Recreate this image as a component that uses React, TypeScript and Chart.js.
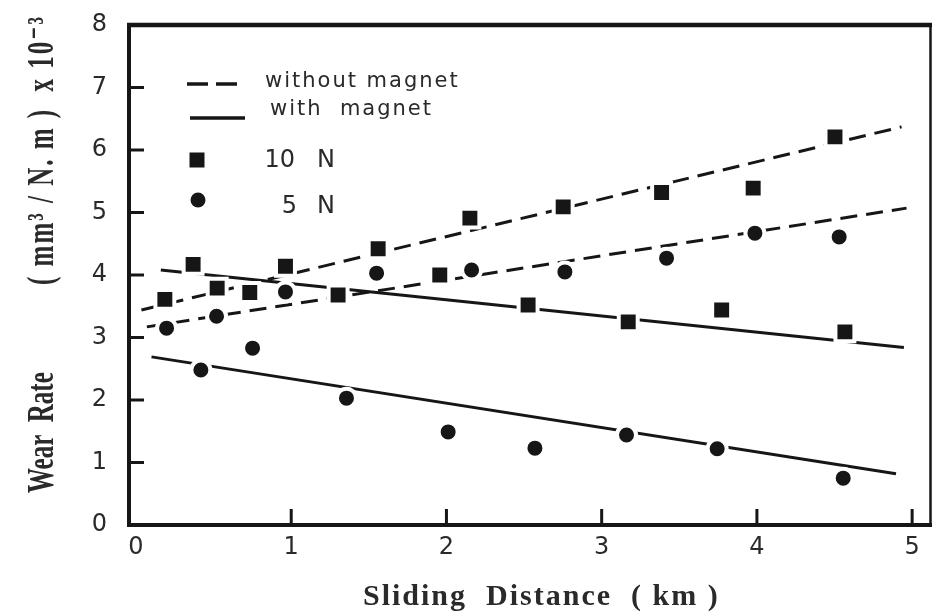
import React, { useEffect, useRef } from "react";
import { Chart, registerables } from "chart.js";

Chart.register(...registerables);

// ---------------- data ----------------
const xTickValues = [0, 1, 2, 3, 4, 5];
const yTickValues = [0, 1, 2, 3, 4, 5, 6, 7, 8];
const xAxisMin = -0.045;
const xAxisMax = 5.128;
const yAxisMin = 0;
const yAxisMax = 8;

const xTitle = "Sliding  Distance  ( km )";
const yTitleMain = "Wear  Rate";
const yTitleUnit = "( mm³ / N. m )  x 10⁻³";

const legendLineLabels = ["without magnet", "with  magnet"];
const legendLoadNumbers = ["10", "5"];
const legendLoadUnit = "N";

// 10 N, without magnet (squares)
const sq10WithoutX = [0.186, 0.523, 0.733, 1.56, 1.957, 2.151, 2.752, 3.386, 3.976, 4.503];
const sq10WithoutY = [3.61, 3.79, 3.72, 4.42, 4.0, 4.91, 5.09, 5.32, 5.39, 6.21];
// 10 N, with magnet (squares)
const sq10WithX = [0.368, 0.963, 1.302, 2.526, 3.171, 3.773, 4.567];
const sq10WithY = [4.17, 4.14, 3.68, 3.52, 3.25, 3.44, 3.09];
// 5 N, without magnet (circles)
const c5WithoutX = [0.197, 0.519, 0.963, 1.55, 2.162, 2.763, 3.418, 3.987, 4.53];
const c5WithoutY = [3.15, 3.34, 3.73, 4.03, 4.08, 4.05, 4.27, 4.67, 4.61];
// 5 N, with magnet (circles)
const c5WithX = [0.418, 0.751, 1.356, 2.011, 2.57, 3.16, 3.744, 4.556];
const c5WithY = [2.48, 2.83, 2.03, 1.49, 1.23, 1.44, 1.22, 0.75];

// fitted lines (end points)
const fit10WithoutX = [0.035, 4.932];
const fit10WithoutY = [3.44, 6.37];
const fit5WithoutX = [0.07, 4.964];
const fit5WithoutY = [3.17, 5.07];
const fit10WithX = [0.16, 4.947];
const fit10WithY = [4.08, 2.84];
const fit5WithX = [0.1, 4.896];
const fit5WithY = [2.69, 0.82];

// ---------------- styles ----------------
const INK = "#161616";
const TEXT = "#2a2a2a";
const TICK_FONT = "'DejaVu Sans', 'Liberation Sans', sans-serif";
const SERIF = "'Liberation Serif', 'DejaVu Serif', serif";

const toPts = (xs: number[], ys: number[]) => xs.map((x, i) => ({ x, y: ys[i] }));

const decorPlugin = {
  id: "decor",
  beforeDraw(chart: any) {
    const { ctx, width, height } = chart;
    ctx.save();
    ctx.fillStyle = "#ffffff";
    ctx.fillRect(0, 0, width, height);
    ctx.restore();
  },
  afterDatasetsDraw(chart: any) {
    const { ctx, chartArea: a, scales } = chart;
    ctx.save();
    ctx.strokeStyle = INK;
    ctx.lineCap = "butt";
    ctx.setLineDash([]);
    const line = (x1: number, y1: number, x2: number, y2: number) => {
      ctx.beginPath();
      ctx.moveTo(x1, y1);
      ctx.lineTo(x2, y2);
      ctx.stroke();
    };
    // frame
    ctx.lineWidth = 4;
    line(a.left, a.top - 2, a.left, a.bottom + 2);
    line(a.left - 2, a.bottom, a.right, a.bottom);
    ctx.lineWidth = 4.5;
    line(a.left - 2, a.top, a.right, a.top);
    ctx.lineWidth = 2.5;
    line(a.right - 1.5, a.top, a.right - 1.5, a.bottom);
    // inward ticks
    ctx.lineWidth = 3;
    yTickValues.forEach((v) => {
      if (v === yAxisMin || v === yAxisMax) return;
      const y = scales.y.getPixelForValue(v);
      line(a.left, y, a.left + 15, y);
    });
    xTickValues.forEach((v) => {
      if (v === 0) return;
      const x = scales.x.getPixelForValue(v);
      line(x, a.bottom, x, a.bottom - 16);
    });
    // legend
    const L = a.left;
    const T = a.top;
    ctx.lineWidth = 3.5;
    ctx.setLineDash([21, 8]);
    line(L + 58, T + 59, L + 108, T + 59);
    ctx.setLineDash([]);
    line(L + 61, T + 93, L + 116, T + 93);
    ctx.fillStyle = INK;
    ctx.fillRect(L + 68 - 7.5, T + 135 - 7.5, 15, 15);
    ctx.beginPath();
    ctx.arc(L + 69, T + 175, 7.5, 0, Math.PI * 2);
    ctx.fill();

    ctx.fillStyle = TEXT;
    ctx.textBaseline = "alphabetic";
    ctx.textAlign = "left";
    ctx.font = `21px ${TICK_FONT}`;
    (ctx as any).letterSpacing = "2px";
    ctx.fillText(legendLineLabels[0], L + 136, T + 62);
    ctx.fillText(legendLineLabels[1], L + 141, T + 90);
    (ctx as any).letterSpacing = "0px";
    ctx.font = `24px ${TICK_FONT}`;
    ctx.textAlign = "right";
    ctx.fillText(legendLoadNumbers[0], L + 166, T + 142);
    ctx.fillText(legendLoadNumbers[1], L + 168, T + 188);
    ctx.textAlign = "left";
    ctx.fillText(legendLoadUnit, L + 188, T + 142);
    ctx.fillText(legendLoadUnit, L + 188, T + 188);
    ctx.restore();
  },
  afterDraw(chart: any) {
    const { ctx, chartArea: a } = chart;
    ctx.save();
    ctx.fillStyle = TEXT;
    ctx.textBaseline = "alphabetic";
    ctx.textAlign = "left";
    // x title
    ctx.font = `bold 30px ${SERIF}`;
    (ctx as any).letterSpacing = "2px";
    ctx.fillText(xTitle, a.left + 234, a.bottom + 80);
    // y title (two parts)
    ctx.font = `bold 25px ${SERIF}`;
    (ctx as any).letterSpacing = "0px";
    ctx.save();
    ctx.translate(53, a.bottom - 32);
    ctx.rotate(-Math.PI / 2);
    ctx.scale(1, 1.5);
    ctx.fillText(yTitleMain, 0, 0);
    ctx.restore();
    ctx.save();
    (ctx as any).letterSpacing = "2px";
    ctx.translate(53, a.bottom - 240);
    ctx.rotate(-Math.PI / 2);
    ctx.scale(1, 1.5);
    ctx.fillText(yTitleUnit, 0, 0);
    ctx.restore();
    ctx.restore();
  },
};

export default function App() {
  const ref = useRef<HTMLCanvasElement>(null);

  useEffect(() => {
    const canvas = ref.current;
    if (!canvas) return;

    const squareMarker = {
      showLine: false,
      pointStyle: "rect",
      pointRadius: 13.4,
      pointBackgroundColor: INK,
      pointBorderColor: "#ffffff",
      pointBorderWidth: 4,
      order: 0,
    };
    const circleMarker = {
      showLine: false,
      pointStyle: "circle",
      pointRadius: 9.5,
      pointBackgroundColor: INK,
      pointBorderColor: "#ffffff",
      pointBorderWidth: 4,
      order: 0,
    };
    const dashedLine = {
      showLine: true,
      borderColor: INK,
      borderWidth: 3,
      borderDash: [17, 9],
      pointRadius: 0,
      order: 1,
    };
    const solidLine = {
      showLine: true,
      borderColor: INK,
      borderWidth: 3,
      pointRadius: 0,
      order: 1,
    };

    const chart = new Chart(canvas, {
      type: "scatter",
      data: {
        datasets: [
          { label: "10 N without magnet", data: toPts(sq10WithoutX, sq10WithoutY), ...squareMarker },
          { label: "10 N with magnet", data: toPts(sq10WithX, sq10WithY), ...squareMarker },
          { label: "5 N without magnet", data: toPts(c5WithoutX, c5WithoutY), ...circleMarker },
          { label: "5 N with magnet", data: toPts(c5WithX, c5WithY), ...circleMarker },
          { label: "fit 10 N without", data: toPts(fit10WithoutX, fit10WithoutY), ...dashedLine },
          { label: "fit 5 N without", data: toPts(fit5WithoutX, fit5WithoutY), ...dashedLine },
          { label: "fit 10 N with", data: toPts(fit10WithX, fit10WithY), ...solidLine },
          { label: "fit 5 N with", data: toPts(fit5WithX, fit5WithY), ...solidLine },
        ] as any,
      },
      options: {
        animation: false,
        responsive: true,
        maintainAspectRatio: false,
        events: [],
        layout: { autoPadding: false, padding: { top: 25, right: 2, left: 0, bottom: 0 } },
        plugins: {
          legend: { display: false },
          tooltip: { enabled: false },
          title: { display: false },
        },
        scales: {
          x: {
            type: "linear",
            min: xAxisMin,
            max: xAxisMax,
            afterBuildTicks: (s: any) => {
              s.ticks = xTickValues.map((v) => ({ value: v }));
            },
            afterFit: (s: any) => {
              s.height = 87;
              s.paddingLeft = 0;
              s.paddingRight = 0;
            },
            grid: { display: false, drawTicks: false },
            border: { display: false },
            ticks: {
              padding: 8,
              color: TEXT,
              font: { family: TICK_FONT, size: 24 },
              callback: (v: any) => String(v),
            },
          },
          y: {
            type: "linear",
            min: yAxisMin,
            max: yAxisMax,
            afterBuildTicks: (s: any) => {
              s.ticks = yTickValues.map((v) => ({ value: v }));
            },
            afterFit: (s: any) => {
              s.width = 129;
              s.paddingTop = 0;
              s.paddingBottom = 0;
            },
            grid: { display: false, drawTicks: false },
            border: { display: false },
            ticks: {
              padding: 22,
              color: TEXT,
              font: { family: TICK_FONT, size: 24 },
              callback: (v: any) => String(v),
            },
          },
        },
      } as any,
      plugins: [decorPlugin],
    });

    return () => chart.destroy();
  }, []);

  return (
    <div style={{ position: "absolute", left: 0, top: 0, width: 934, height: 612, background: "#fff" }}>
      <canvas ref={ref} />
    </div>
  );
}
